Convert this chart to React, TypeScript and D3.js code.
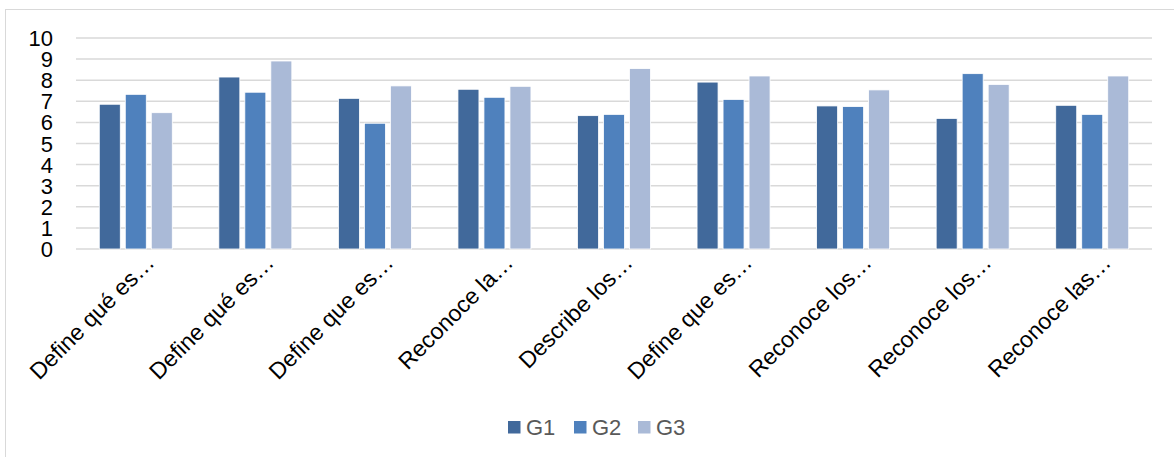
import React, { useEffect, useRef } from "react";
import * as d3 from "d3";

const categories = [
  "Define qué es…",
  "Define qué es…",
  "Define que es…",
  "Reconoce la…",
  "Describe los…",
  "Define que es…",
  "Reconoce los…",
  "Reconoce los…",
  "Reconoce las…",
];
const seriesNames = ["G1", "G2", "G3"];
const g1 = [6.86, 8.15, 7.14, 7.57, 6.32, 7.91, 6.78, 6.19, 6.81];
const g2 = [7.33, 7.43, 5.96, 7.19, 6.38, 7.09, 6.75, 8.31, 6.38];
const g3 = [6.46, 8.91, 7.73, 7.71, 8.55, 8.2, 7.54, 7.8, 8.2];
const yTicks = [0, 1, 2, 3, 4, 5, 6, 7, 8, 9, 10];
const colors = ["#41699B", "#4F81BD", "#AABAD7"];

const App = () => {
  const svgRef = useRef<SVGSVGElement>(null);

  useEffect(() => {
    const width = 1174;
    const height = 457;
    const margin = { top: 38, right: 22, bottom: 208, left: 76 };
    const font = "'Liberation Sans', Arial, sans-serif";

    const svg = d3.select(svgRef.current);
    svg.selectAll("*").remove();
    svg.attr("width", width).attr("height", height);

    // chart frame
    svg
      .append("rect")
      .attr("x", 5.5)
      .attr("y", 9.5)
      .attr("width", 1200)
      .attr("height", 600)
      .attr("fill", "white")
      .attr("stroke", "#D9D9D9");

    const x0 = d3
      .scaleBand()
      .domain(categories.map((_, i) => String(i)))
      .range([margin.left, width - margin.right]);
    const y = d3.scaleLinear().domain([0, 10]).range([height - margin.bottom, margin.top]);

    // gridlines
    svg
      .append("g")
      .selectAll("line")
      .data(yTicks)
      .enter()
      .append("line")
      .attr("x1", margin.left)
      .attr("x2", width - margin.right)
      .attr("y1", (d) => y(d))
      .attr("y2", (d) => y(d))
      .attr("stroke", "#D9D9D9")
      .attr("stroke-width", 1.5);

    // y labels
    svg
      .append("g")
      .selectAll("text")
      .data(yTicks)
      .enter()
      .append("text")
      .attr("x", 53)
      .attr("y", (d) => y(d) + 8)
      .attr("text-anchor", "end")
      .style("font-family", font)
      .style("font-size", "22px")
      .attr("fill", "#000")
      .text((d) => d);

    // bars
    const barW = 21;
    const gap = 5;
    const series = [g1, g2, g3];
    series.forEach((vals, s) => {
      svg
        .append("g")
        .selectAll("rect")
        .data(vals)
        .enter()
        .append("rect")
        .attr("x", (_, i) => x0(String(i))! + x0.bandwidth() / 2 - (3 * barW + 2 * gap) / 2 + s * (barW + gap))
        .attr("y", (d) => y(d))
        .attr("width", barW)
        .attr("height", (d) => y(0) - y(d))
        .attr("fill", colors[s])
        .attr("stroke", "white")
        .attr("stroke-width", 0.8);
    });

    // x labels
    svg
      .append("g")
      .selectAll("text")
      .data(categories)
      .enter()
      .append("text")
      .attr("transform", (_, i) => `translate(${x0(String(i))! + x0.bandwidth() / 2 + 20},${y(0) + 15}) rotate(-45)`)
      .attr("text-anchor", "end")
      .style("font-family", font)
      .style("font-size", "23px")
      .attr("fill", "#000")
      .text((d) => d);

    // legend
    const legendX = [508, 574, 638];
    seriesNames.forEach((name, i) => {
      svg
        .append("rect")
        .attr("x", legendX[i])
        .attr("y", 421)
        .attr("width", 12.5)
        .attr("height", 12.5)
        .attr("fill", colors[i]);
      svg
        .append("text")
        .attr("x", legendX[i] + 18)
        .attr("y", 435)
        .style("font-family", font)
        .style("font-size", "22px")
        .attr("fill", "#595959")
        .text(name);
    });
  }, []);

  return <svg ref={svgRef} style={{ position: "absolute", left: 0, top: 0 }}></svg>;
};

export default App;
